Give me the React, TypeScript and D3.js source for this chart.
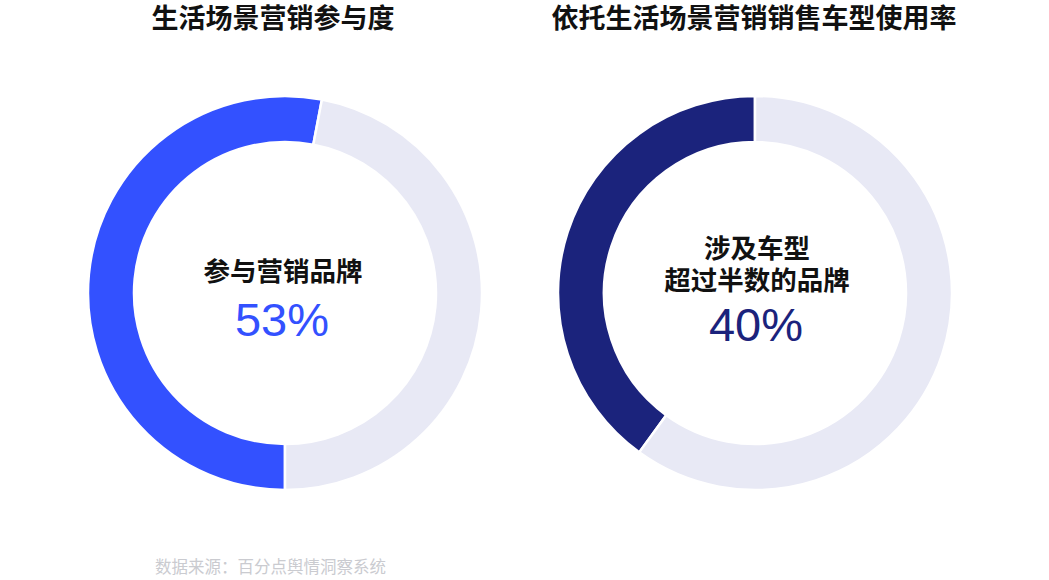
import React from "react";
import * as d3 from "d3";

const titles = ["生活场景营销参与度", "依托生活场景营销销售车型使用率"];
const centerLabels = [["参与营销品牌"], ["涉及车型", "超过半数的品牌"]];
const percents = [53, 40];
const startAngles = [Math.PI, -0.8 * Math.PI];
const mainColors = ["#3351FF", "#1B237C"];
const restColor = "#E8E9F5";
const source = "数据来源：百分点舆情洞察系统";

const W = 1049;
const H = 580;
const centers = [
  { x: 285, y: 293, tx: 273, lx: 283 },
  { x: 755, y: 293, tx: 754, lx: 757 },
];
const outerR = 197;
const innerR = 151;
const font = "'Liberation Sans', 'Noto Sans CJK SC', sans-serif";

export default function App() {
  const arc = d3.arc<d3.PieArcDatum<number>>().innerRadius(innerR).outerRadius(outerR);
  return (
    <svg width={W} height={H} style={{ position: "absolute", left: 0, top: 0 }}>
      <rect width={W} height={H} fill="#fff" />
      {percents.map((p, i) => {
        const pie = d3
          .pie<number>()
          .sort(null)
          .startAngle(startAngles[i])
          .endAngle(startAngles[i] + 2 * Math.PI);
        const arcs = pie([p, 100 - p]);
        const c = centers[i];
        const lines = centerLabels[i];
        const lineH = 32;
        const firstY = i === 0 ? 281 : 258;
        return (
          <g key={i}>
            <text
              x={c.tx}
              y={28}
              textAnchor="middle"
              fontFamily={font}
              fontWeight="bold"
              fontSize={27}
              fill="#111"
            >
              {titles[i]}
            </text>
            <g transform={`translate(${c.x},${c.y})`}>
              {arcs.map((a, j) => (
                <path
                  key={j}
                  d={arc(a) || ""}
                  fill={j === 0 ? mainColors[i] : restColor}
                  stroke="#fff"
                  strokeWidth={2.5}
                />
              ))}
            </g>
            {lines.map((l, k) => (
              <text
                key={k}
                x={c.lx}
                y={firstY + k * lineH}
                textAnchor="middle"
                fontFamily={font}
                fontWeight="bold"
                fontSize={26.5}
                fill="#111"
              >
                {l}
              </text>
            ))}
            <text
              x={i === 0 ? 282 : 756}
              y={i === 0 ? 336 : 341}
              textAnchor="middle"
              fontFamily={font}
              fontSize={47}
              fill={mainColors[i]}
            >
              {p}%
            </text>
          </g>
        );
      })}
      <text x={155} y={573} fontFamily={font} fontSize={16.5} fill="#CACBD0">
        {source}
      </text>
    </svg>
  );
}
